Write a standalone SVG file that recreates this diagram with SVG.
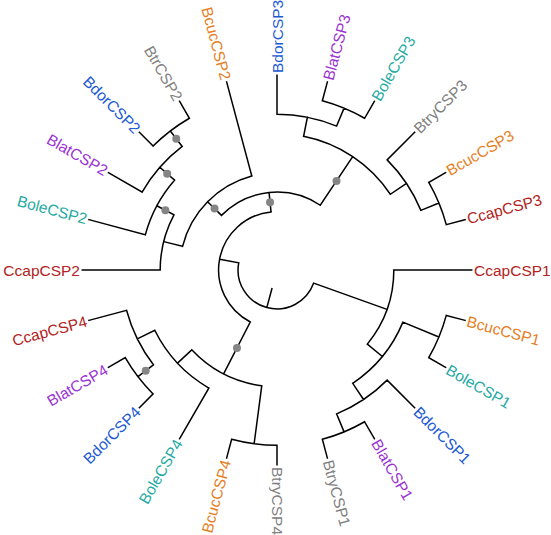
<svg xmlns="http://www.w3.org/2000/svg" width="551" height="535" viewBox="0 0 551 535">
<style>
.e{fill:none;stroke:#000;stroke-width:1.5;stroke-linecap:square}
.d{fill:#858585}
text{font-family:"Liberation Sans",Arial,sans-serif;font-size:15.5px}
.r{dominant-baseline:central}
.l{dominant-baseline:central;text-anchor:end}
.ccap{fill:#B22222}.bcuc{fill:#E67E22}.bole{fill:#1FAAA2}.bdor{fill:#2159D4}.blat{fill:#9A33D2}.btry{fill:#808080}
</style>
<rect width="551" height="535" fill="#fff"/>
<g id="connectors">
<path class="e" d="M271.90 288.79 L266.81 307.58
M313.66 283.12 A38.94 38.94 0 0 1 238.73 262.79
M313.66 283.12 L386.99 309.36
M238.73 262.79 L219.60 259.19
M393.82 270 A116.82 116.82 0 0 1 367.31 344.11
M393.82 270 L471.7 270
M367.31 344.11 L382.35 356.46
M402.92 322.16 A136.29 136.29 0 0 1 352.72 383.32
M402.92 322.16 L438.89 337.06
M446.26 315.35 A175.23 175.23 0 0 1 428.75 357.62
M446.26 315.35 L465.07 320.39
M428.75 357.62 L445.62 367.35
M352.72 383.32 L363.54 399.51
M387.14 380.14 A155.76 155.76 0 0 1 336.61 413.90
M387.14 380.14 L414.67 407.67
M336.61 413.90 L344.06 431.89
M364.62 421.75 A175.23 175.23 0 0 1 322.35 439.26
M364.62 421.75 L374.35 438.62
M322.35 439.26 L327.39 458.07
M250.31 321.96 A58.41 58.41 0 0 1 271.04 211.90
M250.31 321.96 L223.62 373.91
M271.04 211.90 L269.05 192.53
M261.75 385.82 A116.82 116.82 0 0 1 191.74 349.86
M261.75 385.82 L254.13 443.73
M277 445.23 A175.23 175.23 0 0 1 231.65 439.26
M277 445.23 L277 464.7
M231.65 439.26 L226.61 458.07
M191.74 349.86 L177.53 363.17
M208.86 388.03 A136.29 136.29 0 0 1 154.77 330.28
M208.86 388.03 L179.65 438.62
M154.77 330.28 L137.30 338.89
M153.43 364.82 A155.76 155.76 0 0 1 126.55 310.31
M126.55 310.31 L88.93 320.39
M153.43 364.82 L137.98 376.67
M153.09 393.91 A175.23 175.23 0 0 1 125.25 357.62
M153.09 393.91 L139.33 407.67
M125.25 357.62 L108.38 367.35
M221.48 215.38 A77.88 77.88 0 0 1 320.27 205.25
M221.48 215.38 L207.60 201.73
M182.57 246.35 A97.35 97.35 0 0 1 251.80 175.97
M251.80 175.97 L226.61 81.93
M182.57 246.35 L163.68 241.62
M160.18 270 A116.82 116.82 0 0 1 173.97 214.93
M160.18 270 L82.3 270
M173.97 214.93 L156.80 205.75
M145.35 234.73 A136.29 136.29 0 0 1 174.53 180.14
M145.35 234.73 L88.93 219.61
M174.53 180.14 L159.89 167.30
M142.11 192.12 A155.76 155.76 0 0 1 182.18 146.43
M142.11 192.12 L108.38 172.65
M182.18 146.43 L170.33 130.98
M153.09 146.09 A175.23 175.23 0 0 1 189.39 118.25
M153.09 146.09 L139.33 132.33
M189.39 118.25 L179.65 101.38
M320.27 205.25 L352.72 156.68
M303.59 136.33 A136.29 136.29 0 0 1 390.32 194.28
M303.59 136.33 L307.39 117.23
M277 114.24 A155.76 155.76 0 0 1 336.61 126.10
M277 114.24 L277 75.3
M336.61 126.10 L344.06 108.11
M322.35 100.74 A175.23 175.23 0 0 1 364.62 118.25
M322.35 100.74 L327.39 81.93
M364.62 118.25 L374.35 101.38
M390.32 194.28 L406.51 183.46
M387.14 159.86 A155.76 155.76 0 0 1 420.90 210.39
M387.14 159.86 L414.67 132.33
M420.90 210.39 L438.89 202.94
M428.75 182.39 A175.23 175.23 0 0 1 446.26 224.65
M428.75 182.39 L445.62 172.65
M446.26 224.65 L465.07 219.61"/>
</g>
<g id="support-dots">
<circle class="d" cx="270.04" cy="202.21" r="4"/>
<circle class="d" cx="236.97" cy="347.94" r="4"/>
<circle class="d" cx="214.54" cy="208.55" r="4"/>
<circle class="d" cx="165.39" cy="210.34" r="4"/>
<circle class="d" cx="167.21" cy="173.72" r="4"/>
<circle class="d" cx="176.25" cy="138.71" r="4"/>
<circle class="d" cx="336.49" cy="180.96" r="4"/>
<circle class="d" cx="145.71" cy="370.75" r="4"/>
</g>
<g id="leaf-CcapCSP1"><text class="r ccap" x="474" y="270">CcapCSP1</text></g>
<g id="leaf-BcucCSP1"><text class="r bcuc" x="474" y="270" transform="rotate(15 277 270)">BcucCSP1</text></g>
<g id="leaf-BoleCSP1"><text class="r bole" x="474" y="270" transform="rotate(30 277 270)">BoleCSP1</text></g>
<g id="leaf-BdorCSP1"><text class="r bdor" x="474" y="270" transform="rotate(45 277 270)">BdorCSP1</text></g>
<g id="leaf-BlatCSP1"><text class="r blat" x="474" y="270" transform="rotate(60 277 270)">BlatCSP1</text></g>
<g id="leaf-BtryCSP1"><text class="r btry" x="474" y="270" transform="rotate(75 277 270)">BtryCSP1</text></g>
<g id="leaf-BtryCSP4"><text class="r btry" x="474" y="270" transform="rotate(90 277 270)">BtryCSP4</text></g>
<g id="leaf-BcucCSP4"><text class="l bcuc" x="80" y="270" transform="rotate(-75 277 270)">BcucCSP4</text></g>
<g id="leaf-BoleCSP4"><text class="l bole" x="80" y="270" transform="rotate(-60 277 270)">BoleCSP4</text></g>
<g id="leaf-BdorCSP4"><text class="l bdor" x="80" y="270" transform="rotate(-45 277 270)">BdorCSP4</text></g>
<g id="leaf-BlatCSP4"><text class="l blat" x="80" y="270" transform="rotate(-30 277 270)">BlatCSP4</text></g>
<g id="leaf-CcapCSP4"><text class="l ccap" x="80" y="270" transform="rotate(-15 277 270)">CcapCSP4</text></g>
<g id="leaf-CcapCSP2"><text class="l ccap" x="80" y="270">CcapCSP2</text></g>
<g id="leaf-BoleCSP2"><text class="l bole" x="80" y="270" transform="rotate(15 277 270)">BoleCSP2</text></g>
<g id="leaf-BlatCSP2"><text class="l blat" x="80" y="270" transform="rotate(30 277 270)">BlatCSP2</text></g>
<g id="leaf-BdorCSP2"><text class="l bdor" x="80" y="270" transform="rotate(45 277 270)">BdorCSP2</text></g>
<g id="leaf-BtrCSP2"><text class="l btry" x="80" y="270" transform="rotate(60 277 270)">BtrCSP2</text></g>
<g id="leaf-BcucCSP2"><text class="l bcuc" x="80" y="270" transform="rotate(75 277 270)">BcucCSP2</text></g>
<g id="leaf-BdorCSP3"><text class="r bdor" x="474" y="270" transform="rotate(-90 277 270)">BdorCSP3</text></g>
<g id="leaf-BlatCSP3"><text class="r blat" x="474" y="270" transform="rotate(-75 277 270)">BlatCSP3</text></g>
<g id="leaf-BoleCSP3"><text class="r bole" x="474" y="270" transform="rotate(-60 277 270)">BoleCSP3</text></g>
<g id="leaf-BtryCSP3"><text class="r btry" x="474" y="270" transform="rotate(-45 277 270)">BtryCSP3</text></g>
<g id="leaf-BcucCSP3"><text class="r bcuc" x="474" y="270" transform="rotate(-30 277 270)">BcucCSP3</text></g>
<g id="leaf-CcapCSP3"><text class="r ccap" x="474" y="270" transform="rotate(-15 277 270)">CcapCSP3</text></g>
</svg>
